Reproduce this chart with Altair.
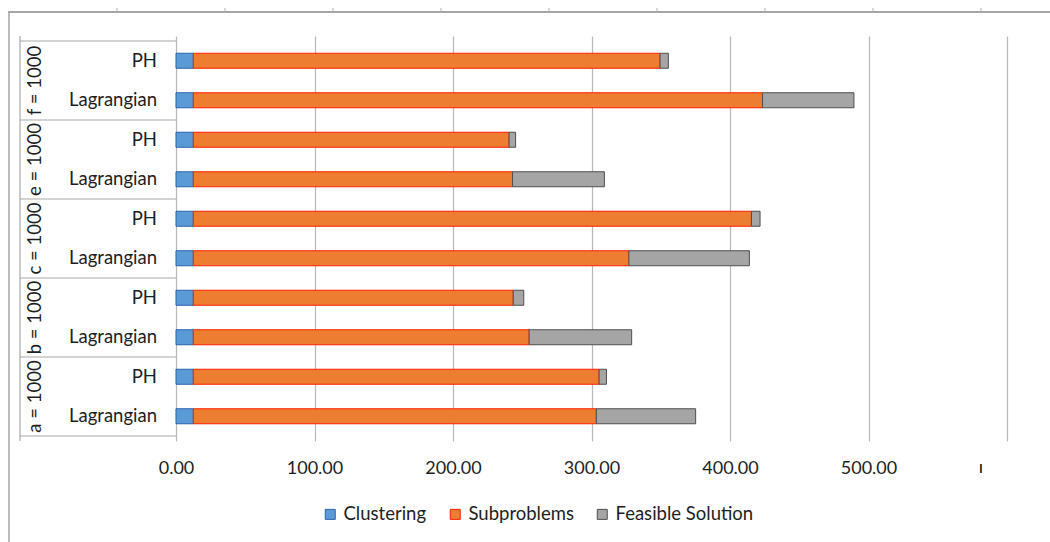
import altair as alt
import pandas as pd

# Instance groups (top to bottom) and the two methods inside each group
groups = ["f = 1000", "e = 1000", "c = 1000", "b = 1000", "a = 1000"]
methods = ["PH", "Lagrangian"]
parts = ["Clustering", "Subproblems", "Feasible Solution"]

# Run time per phase, one value per (group, method) row, top to bottom
clustering = [12.5, 12.5, 12.5, 12.5, 12.5, 12.5, 12.5, 12.5, 12.5, 12.5]
subproblems = [337, 411, 228, 230.5, 403, 314.5, 231, 242.5, 293, 291]
feasible = [6, 66, 4.7, 66.3, 6.2, 87, 7.6, 74, 5.3, 71.7]

x_ticks = [0, 100, 200, 300, 400, 500, 600]

fills = ["#5B9BD5", "#ED7D31", "#A5A5A5"]
strokes = ["#2A62B0", "#FF1E00", "#4F4F4F"]
FONT = "Lato"
TXT = "#1E1E1E"

rows = []
labels = []
r = 0
for g in groups:
    for m in methods:
        labels.append({"row": r, "group": g, "method": m})
        for k, (p, vals) in enumerate(zip(parts, [clustering, subproblems, feasible])):
            rows.append({"row": r, "group": g, "method": m, "part": p, "k": k, "value": vals[r]})
        r += 1
bars_df = pd.DataFrame(rows)
labels_df = pd.DataFrame(labels)
grp = labels_df.groupby("group", sort=False)["row"].agg(["min", "max"]).reset_index()
grp["center"] = (grp["min"] + grp["max"]) / 2
sep_df = pd.DataFrame({"edge": sorted(set(list(grp["min"] - 0.5) + list(grp["max"] + 0.5)))})

W, H = 831, 405
yscale = alt.Scale(domain=[-0.5, len(labels) - 0.5], reverse=True, nice=False, zero=False)

legend_opts = dict(title=None, orient="none", legendX=145, legendY=469,
                   direction="horizontal", symbolType="square",
                   symbolSize=100, symbolStrokeWidth=1,
                   labelFont=FONT, labelFontSize=18.5, labelColor=TXT,
                   labelOffset=4, columnPadding=19)

bars = (
    alt.Chart(bars_df)
    .transform_stack(stack="value", groupby=["row"], as_=["x0", "x1"],
                     sort=[alt.SortField("k", order="ascending")])
    .mark_bar(size=15, strokeWidth=1)
    .encode(
        x=alt.X("x0:Q", title=None,
                scale=alt.Scale(domain=[0, 600], nice=False),
                axis=alt.Axis(values=x_ticks, grid=True, ticks=False, domain=False,
                              gridColor="#B8B8B8", gridWidth=1.2, labelFlush=False,
                              labelExpr="datum.value >= 600 ? '' : format(datum.value, '.2f')",
                              labelFont=FONT, labelFontSize=18, labelColor=TXT,
                              labelPadding=18)),
        x2="x1:Q",
        y=alt.Y("row:Q", scale=yscale, axis=None),
        fill=alt.Fill("part:N", scale=alt.Scale(domain=parts, range=fills),
                      legend=alt.Legend(**legend_opts)),
        stroke=alt.Stroke("part:N", scale=alt.Scale(domain=parts, range=strokes),
                          legend=alt.Legend(**legend_opts)),
        order=alt.Order("k:Q"),
    )
)

method_text = (
    alt.Chart(labels_df)
    .mark_text(align="right", baseline="middle", font=FONT, fontSize=18.5, color=TXT)
    .encode(x=alt.value(-19), y=alt.Y("row:Q", scale=yscale, axis=None), text="method:N")
)

group_text = (
    alt.Chart(grp)
    .mark_text(angle=270, align="center", baseline="middle", font=FONT, fontSize=18.5, color=TXT)
    .encode(x=alt.value(-141), y=alt.Y("center:Q", scale=yscale, axis=None), text="group:N")
)

separators = (
    alt.Chart(sep_df)
    .mark_rule(color="#A8A8A8", strokeWidth=1.2)
    .encode(x=alt.value(-156), x2=alt.value(0), y=alt.Y("edge:Q", scale=yscale, axis=None))
)

box_left = alt.Chart().mark_rule(color="#A8A8A8", strokeWidth=1.2).encode(
    x=alt.value(-156), y=alt.value(0), y2=alt.value(H)
)

# outer page frame with its small ruler ticks
frame_top = alt.Chart().mark_rule(color="#A6A6A6", strokeWidth=2).encode(
    x=alt.value(-168), x2=alt.value(880), y=alt.value(-24)
)
frame_left = alt.Chart().mark_rule(color="#A6A6A6", strokeWidth=1.5).encode(
    x=alt.value(-167), y=alt.value(-24), y2=alt.value(512)
)
frame_ticks = (
    alt.Chart(alt.sequence(0, 9, as_="i"))
    .transform_calculate(px="-59 + 108 * datum.i")
    .mark_rule(color="#B0B0B0", strokeWidth=1)
    .encode(x=alt.X("px:Q", scale=None), y=alt.value(-28), y2=alt.value(-24))
)

stray = alt.Chart().mark_text(font=FONT, fontSize=18, color="#111111").encode(
    x=alt.value(805), y=alt.value(432), text=alt.value("ı")
)

chart = (
    alt.layer(frame_top, frame_left, frame_ticks, bars, separators, box_left,
              method_text, group_text, stray)
    .properties(width=W, height=H, background="white",
                padding={"left": 176, "top": 36, "right": 43, "bottom": 101},
                autosize=alt.AutoSizeParams(type="none"))
    .configure_view(stroke=None)
)

chart.save("out.html", embed_options={"renderer": "svg", "actions": False})
